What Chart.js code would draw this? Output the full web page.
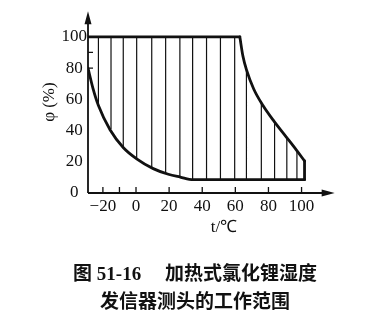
<!DOCTYPE html>
<html>
<head>
<meta charset="utf-8">
<script src="https://cdn.jsdelivr.net/npm/chart.js@4/dist/chart.umd.min.js"></script>
<style>
  html, body { margin: 0; background: #fff; }
</style>
</head>
<body>
<canvas id="graph" width="371" height="320"></canvas>
<script>
// axis ticks
const xTicks = [-20, 0, 20, 40, 60, 80, 100];
const yTicks = [0, 20, 40, 60, 80, 100];
const xMinorTicks = [-20, -10, 0, 20, 40, 60, 80, 100];
const yMinorTicks = [80, 90];
const xArrowEnd = 120;

// upper boundary: 100% line, then the falling curve
const upperT = [-29, 62.7, 64.6, 66.7, 71.1, 76.7, 83.3, 90.8, 96.8, 101.8];
const upperPhi = [100, 100, 87.5, 79, 66.6, 56, 46, 35.8, 27.6, 20.5];

// lower boundary: falling curve, then flat bottom
const lowerT = [-29, -26, -22.7, -15.7, -7.6, 0.4, 10.4, 19.5, 26.7, 34.5, 101.8];
const lowerPhi = [80, 67, 56, 40.5, 29, 21.9, 15.6, 12, 10.2, 8.5, 8.5];

// vertical hatch lines inside the working range
const hatchT = [-22.7, -15.1, -7.7, 0.4, 9.5, 17.9, 26.5, 34.2, 42.6, 51.0, 59.6, 66.7, 75.7, 83.7, 91.1, 97.2];
const hatchLow = [56, 41, 29, 22, 16, 12.5, 10.2, 8.5, 8.5, 8.5, 8.5, 8.5, 8.5, 8.5, 8.5, 8.5];
const hatchHigh = [100, 100, 100, 100, 100, 100, 100, 100, 100, 100, 100, 79, 58, 45.4, 35.4, 27];

const ink = '#111';
const toPts = (ts, ys) => ts.map((t, i) => ({ x: t, y: ys[i] }));

const upperPts = toPts(upperT, upperPhi);
const lowerPts = toPts(lowerT, lowerPhi);
const hatchPts = [];
hatchT.forEach((t, i) => {
  hatchPts.push({ x: t, y: hatchLow[i] }, { x: t, y: hatchHigh[i] }, { x: t, y: null });
});

const edge = (data, extra) => Object.assign({
  data: data,
  borderColor: ink,
  borderWidth: 2.8,
  pointRadius: 0,
  fill: false,
  tension: 0,
  borderCapStyle: 'round',
  borderJoinStyle: 'round'
}, extra);

const axesPlugin = {
  id: 'axesArrows',
  afterDatasetsDraw(chart) {
    const { ctx, scales: { x, y } } = chart;
    const x0 = x.getPixelForValue(x.min);
    const y0 = y.getPixelForValue(0);
    const xEnd = x.getPixelForValue(xArrowEnd);
    const yEnd = y.getPixelForValue(y.max);
    ctx.save();
    ctx.strokeStyle = ink;
    ctx.fillStyle = ink;
    ctx.lineWidth = 1.8;
    ctx.beginPath();
    ctx.moveTo(x0, y0);
    ctx.lineTo(xEnd - 6, y0);
    ctx.moveTo(x0, y0);
    ctx.lineTo(x0, yEnd + 6);
    ctx.stroke();
    // arrow heads
    ctx.beginPath();
    ctx.moveTo(xEnd, y0);
    ctx.lineTo(xEnd - 13, y0 - 3.5);
    ctx.lineTo(xEnd - 13, y0 + 3.5);
    ctx.closePath();
    ctx.moveTo(x0, yEnd);
    ctx.lineTo(x0 - 3.5, yEnd + 13);
    ctx.lineTo(x0 + 3.5, yEnd + 13);
    ctx.closePath();
    ctx.fill();
    // small inward ticks
    ctx.lineWidth = 1.3;
    ctx.beginPath();
    xMinorTicks.forEach(v => {
      const px = x.getPixelForValue(v);
      ctx.moveTo(px, y0);
      ctx.lineTo(px, y0 - 6);
    });
    yMinorTicks.forEach(v => {
      const py = y.getPixelForValue(v);
      ctx.moveTo(x0, py);
      ctx.lineTo(x0 + 5, py);
    });
    ctx.stroke();
    ctx.restore();
  }
};

const serif = 'Liberation Serif';

new Chart(document.getElementById('graph').getContext('2d'), {
  type: 'line',
  data: {
    datasets: [
      edge(upperPts.slice(0, 2)),
      edge(upperPts.slice(1), { cubicInterpolationMode: 'monotone' }),
      edge([upperPts[upperPts.length - 1], lowerPts[lowerPts.length - 1]]),
      edge(lowerPts, { cubicInterpolationMode: 'monotone' }),
      edge(hatchPts, { borderWidth: 1.2, borderCapStyle: 'butt', spanGaps: false })
    ]
  },
  options: {
    responsive: false,
    animation: false,
    layout: { padding: { top: 7, left: 30, right: 11, bottom: 0 } },
    plugins: {
      legend: { display: false },
      tooltip: { enabled: false },
      title: {
        display: true,
        position: 'bottom',
        text: ['图 51-16\u3000 加热式氯化锂湿度', '发信器测头的工作范围'],
        color: ink,
        font: { family: "'Liberation Serif', 'Noto Sans CJK SC'", size: 19, weight: 'bold', lineHeight: 28 / 19 },
        padding: { top: 0, bottom: 3 }
      }
    },
    scales: {
      x: {
        type: 'linear',
        min: -29,
        max: 135.3,
        afterBuildTicks: s => { s.ticks = xTicks.map(v => ({ value: v })); },
        afterFit: s => { s.height = 68; },
        grid: { display: false, drawTicks: false },
        border: { display: false },
        ticks: {
          color: ink,
          padding: 3,
          maxRotation: 0,
          autoSkip: false,
          font: { family: serif, size: 17 },
          callback: v => v < 0 ? '\u2212' + Math.abs(v) : String(v)
        },
        title: {
          display: true,
          text: 't/℃',
          color: ink,
          font: { family: serif, size: 17 },
          padding: { top: 0, bottom: 23 }
        }
      },
      y: {
        min: 0,
        max: 116.4,
        afterBuildTicks: s => { s.ticks = yTicks.map(v => ({ value: v })); },
        afterFit: s => { s.width = 58; },
        grid: { display: false, drawTicks: false },
        border: { display: false },
        ticks: {
          color: ink,
          padding: 1,
          crossAlign: 'center',
          font: { family: serif, size: 17 }
        },
        title: {
          display: true,
          text: 'φ (%)',
          color: ink,
          font: { family: serif, size: 17 },
          padding: { top: 9, bottom: 0 }
        }
      }
    }
  },
  plugins: [axesPlugin]
});
</script>
</body>
</html>
